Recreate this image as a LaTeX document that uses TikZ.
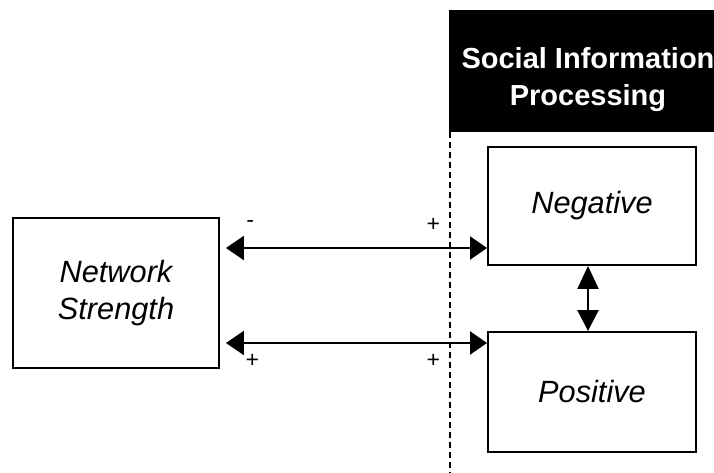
\documentclass[tikz,border=0pt]{standalone}
\usepackage{fontspec}
\setmainfont{Liberation Sans}
\usetikzlibrary{arrows.meta}
\usetikzlibrary{positioning}
\tikzset{
    box/.style={draw=black, line width=1.1pt, fill=white, align=center,
        font=\fontsize{17.5}{21}\selectfont\itshape},
    header/.style={fill=black, text=white, align=center,
        font=\fontsize{16.5}{21}\selectfont\bfseries},
    divider/.style={draw=black, line width=0.8pt, dash pattern=on 1.2mm off 0.8mm},
    link/.style={draw=black, line width=1.2pt,
        {Triangle[length=3.6mm,width=4.8mm]}-{Triangle[length=3.4mm,width=4.6mm]}},
    biglink/.style={draw=black, line width=1.2pt,
        {Triangle[length=4.6mm,width=4.2mm]}-{Triangle[length=4.2mm,width=4.2mm]}},
    sign/.style={font=\fontsize{13}{15}\selectfont\itshape, inner sep=0pt},
}
\begin{document}
\begin{tikzpicture}[x=0.02cm, y=-0.02cm]
	\useasboundingbox (0,0) rectangle (714,473);
	\clip (0,0) rectangle (714,473);
	% header and dashed divider
	\fill[black] (449,10) rectangle (740,132);
	\node[header] (sip) at (588,80) {Social Information\\Processing};
	\coordinate (dtop) at (450,132);
	\coordinate (dbot) at (450,473);
	\draw[divider] (dtop) -- (dbot);
	% boxes
	\node[box, minimum width=4.12cm, minimum height=3cm] (net) at (116,293) {Network\\Strength};
	\node[box, minimum width=4.16cm, minimum height=2.36cm] (neg) at (592,206) {Negative};
	\node[box, minimum width=4.16cm, minimum height=2.4cm] (pos) at (592,392) {Positive};
	% links
	\draw[link] ([xshift=1.2mm,yshift=9mm]net.east) coordinate (l1) -- (l1 -| neg.west);
	\draw[link] ([xshift=1.2mm,yshift=-10mm]net.east) coordinate (l2) -- (l2 -| pos.west);
	\draw[biglink] ([xshift=-0.8mm]neg.south) -- ([xshift=-0.8mm]pos.north);
	% signs
	\node[sign] (s1) at (250,224) {-};
	\node[sign] (s2) at (433,225) {+};
	\node[sign] (s3) at (252,361) {+};
	\node[sign] (s4) at (433,361) {+};
\end{tikzpicture}
\end{document}
